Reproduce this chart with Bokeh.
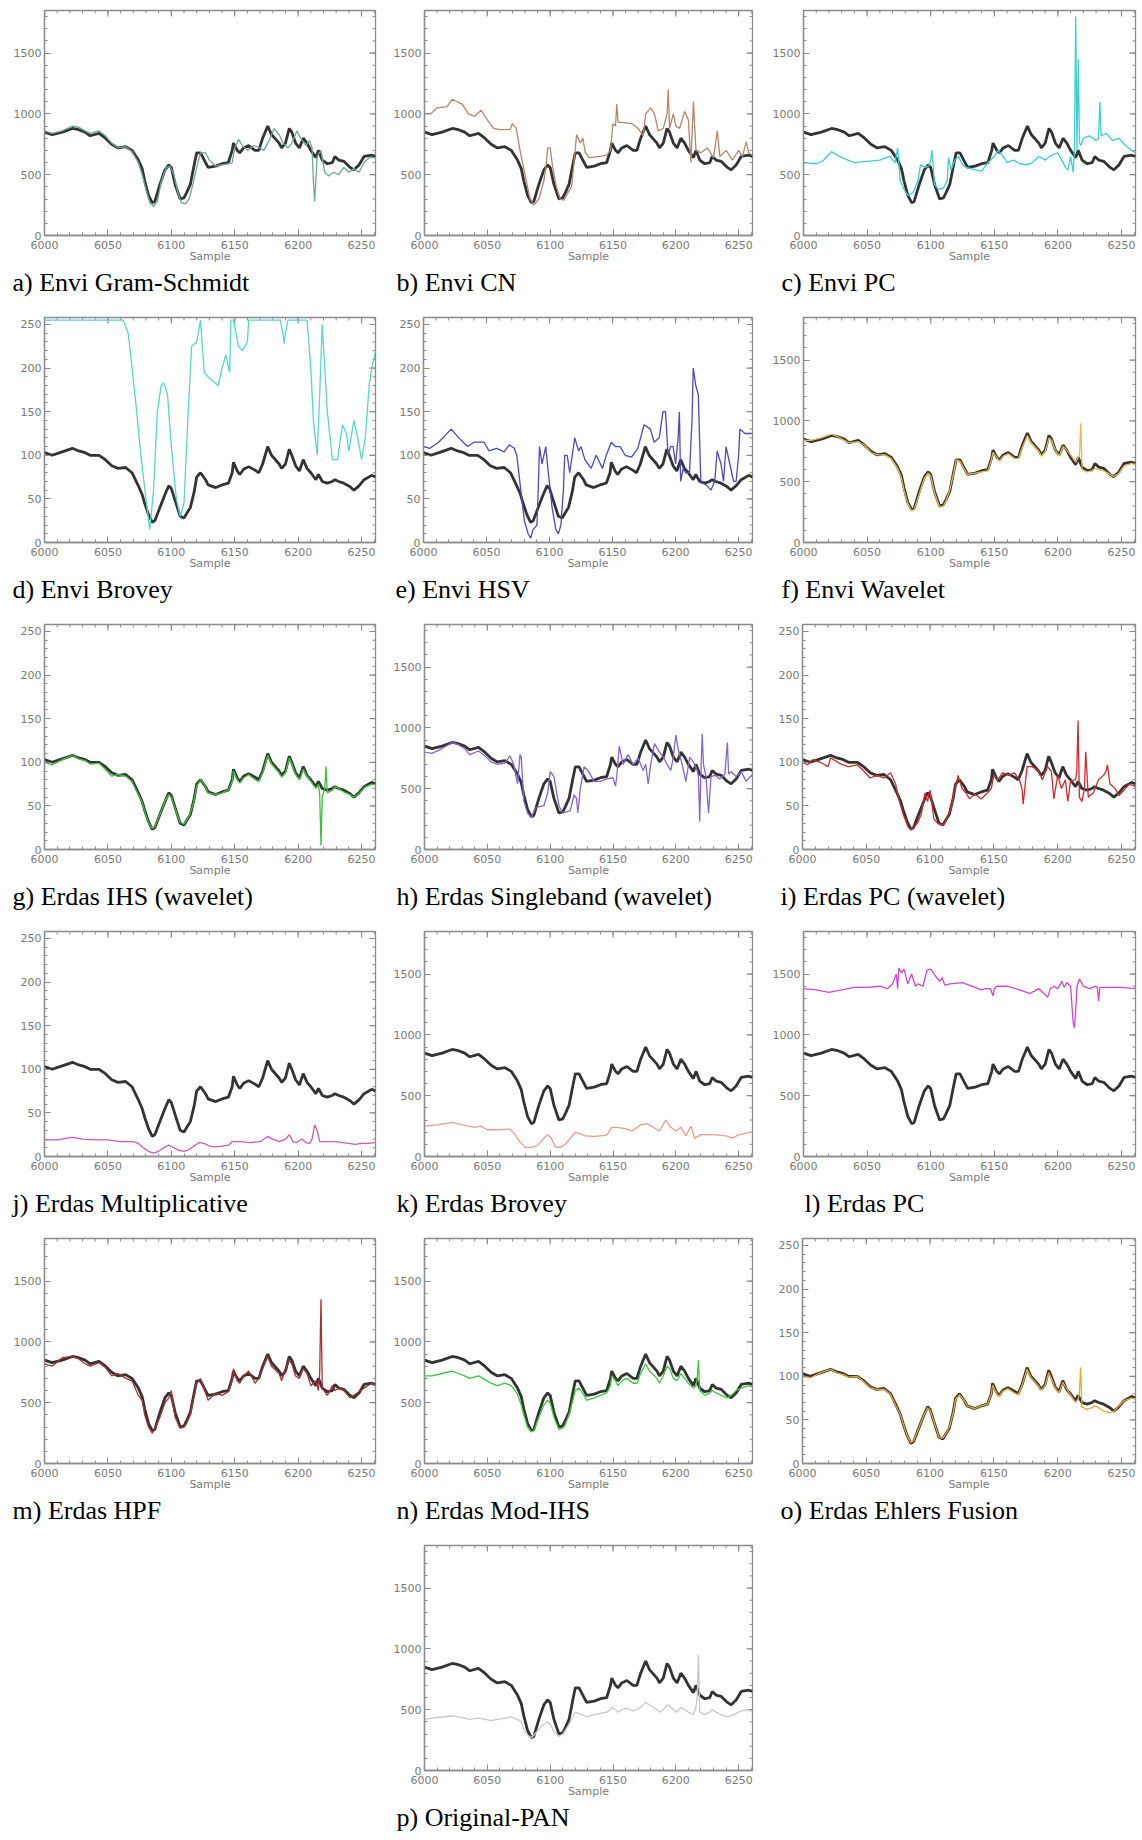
import math
from bokeh.plotting import figure
from bokeh.models import Range1d, FixedTicker, Spacer, Title
from bokeh.layouts import column, row
from bokeh.embed import file_html
from bokeh.resources import INLINE

# ---------------- data ----------------
# reference (original multispectral) profile, 11-bit and 8-bit versions
REF_X = [6000,6006,6014,6022,6027,6032,6036,6043,6048,6053,6058,6064,6069,6074,6077,6079,6082,6085,6087,6091,
         6095,6098,6100,6103,6107,6110,6112,6115,6118,6120,6123,6127,6129,6135,6140,6145,6148,6149,6152,6154,
         6157,6161,6166,6169,6172,6176,6179,6185,6187,6190,6193,6195,6198,6201,6204,6207,6210,6214,6216,6219,
         6223,6227,6229,6232,6236,6241,6244,6248,6252,6258,6261]
REF_11 = [850,830,850,880,870,850,820,840,800,750,720,730,700,620,550,450,330,270,280,420,
          540,580,560,420,300,310,350,420,580,680,680,600,560,570,590,600,700,760,700,680,
          720,740,700,700,800,900,830,760,720,760,880,850,760,720,800,760,700,640,700,620,
          590,600,650,620,610,560,540,580,650,660,650]
REF_8 = [103,100,104,108,105,103,100,100,95,88,85,86,80,65,55,45,32,23,25,40,
         55,65,62,48,30,28,33,40,58,75,80,72,66,63,66,68,80,92,82,78,
         84,87,83,80,90,110,100,90,85,90,107,100,88,82,95,85,80,72,78,70,
         68,70,72,70,68,64,60,65,72,77,75]

# a) Envi Gram-Schmidt
A_X = [6000,6006,6014,6022,6027,6032,6036,6043,6048,6053,6058,6064,6069,6074,6077,6080,6083,6086,6089,6092,
       6096,6099,6102,6105,6108,6111,6114,6117,6120,6123,6127,6130,6135,6140,6145,6148,6150,6153,6156,6160,
       6165,6170,6173,6177,6181,6185,6188,6192,6195,6199,6202,6206,6209,6211,6212,6213,6215,6218,6221,6224,
       6228,6232,6236,6240,6244,6248,6252,6256,6261]
A_Y = [860,840,860,900,890,860,840,860,820,760,720,730,690,600,500,380,270,240,280,440,
       560,570,500,360,270,260,300,420,560,680,680,620,570,580,590,600,720,790,740,700,
       740,720,700,780,880,830,760,720,760,860,800,740,780,720,450,280,650,700,520,490,
       520,500,560,520,550,520,600,640,640]
# b) Envi CN
B_X = [6000,6005,6010,6018,6022,6030,6035,6040,6045,6050,6055,6060,6068,6070,6073,6076,6080,6084,6087,6091,
       6095,6097,6098,6100,6102,6105,6108,6111,6114,6117,6119,6121,6124,6126,6128,6131,6140,6145,6148,6150,
       6152,6153,6154,6157,6165,6170,6174,6176,6180,6183,6186,6190,6193,6194,6195,6198,6200,6203,6207,6210,
       6212,6214,6216,6220,6225,6230,6233,6235,6240,6245,6250,6253,6256,6258,6261]
B_Y = [1000,1000,1050,1060,1120,1080,1000,980,1030,950,880,870,870,920,880,700,500,300,250,300,
       450,600,720,720,560,400,300,290,350,400,600,830,760,800,680,640,650,660,700,920,
       900,1080,930,930,920,880,820,1000,1050,1000,860,880,1000,1200,880,1000,900,880,1020,950,
       600,1100,700,680,720,640,860,650,700,620,700,650,770,680,660]
# c) Envi PC
C_X = [6000,6010,6015,6022,6030,6040,6050,6060,6068,6072,6074,6076,6079,6082,6086,6090,6092,6096,6099,6100,
       6101,6103,6106,6110,6113,6114,6116,6119,6122,6125,6128,6135,6140,6145,6150,6153,6157,6160,6165,6170,
       6175,6180,6185,6190,6195,6200,6203,6206,6208,6210,6212,6213,6214,6215,6216,6217,6218,6220,6225,6230,
       6232,6233,6234,6238,6243,6248,6253,6258,6261]
C_Y = [600,590,610,690,640,600,610,620,650,600,720,450,380,330,350,450,580,560,580,620,
       700,420,380,390,450,640,540,620,650,580,560,540,530,600,650,700,650,600,620,590,
       580,600,650,620,660,680,620,560,540,650,520,700,1800,700,1450,760,740,800,820,780,
       800,1100,820,840,780,800,740,700,680]
# d) Envi Brovey (8-bit)
D_X = [6000,6062,6066,6072,6076,6080,6083,6086,6089,6092,6094,6097,6100,6104,6107,6110,6113,6116,6120,6123,
       6126,6129,6133,6137,6140,6143,6146,6147,6149,6153,6156,6160,6161,6186,6188,6189,6190,6192,6207,6210,
       6212,6215,6217,6219,6221,6223,6227,6231,6235,6238,6240,6244,6247,6250,6253,6256,6258,6261]
D_Y = [255,255,240,160,100,50,15,60,150,180,183,170,110,50,30,45,140,225,230,255,
       195,190,185,180,200,215,195,255,255,225,220,230,255,255,240,228,240,255,255,200,
       140,100,170,250,200,150,95,95,135,125,105,140,120,95,120,180,200,220]
# e) Envi HSV (8-bit)
E_X = [6000,6005,6012,6022,6028,6035,6040,6048,6052,6058,6064,6068,6072,6074,6076,6078,6080,6083,6085,6087,
       6090,6091,6092,6094,6097,6099,6102,6105,6107,6109,6111,6112,6114,6116,6120,6123,6125,6128,6133,6137,
       6142,6145,6149,6152,6156,6160,6165,6170,6175,6180,6183,6187,6189,6190,6192,6194,6196,6198,6200,6202,
       6203,6204,6206,6208,6211,6213,6214,6216,6218,6219,6220,6225,6228,6231,6233,6236,6238,6240,6243,6246,
       6248,6250,6251,6255,6261]
E_Y = [110,108,115,130,120,110,115,115,105,108,104,112,108,100,75,50,25,10,5,15,
       20,60,110,90,110,80,40,15,10,20,60,100,100,80,120,105,110,95,85,100,
       85,100,115,110,110,100,98,108,135,130,115,120,140,150,150,100,110,110,90,120,
       150,70,85,80,80,140,200,180,170,120,70,65,60,70,105,90,70,110,90,70,
       70,100,130,125,125]
# f) Envi Wavelet
F_X = [6000,6006,6014,6022,6027,6032,6036,6043,6048,6053,6058,6064,6069,6074,6077,6079,6082,6085,6087,6091,
       6095,6098,6100,6103,6107,6110,6112,6115,6118,6120,6123,6127,6129,6135,6140,6145,6148,6149,6152,6154,
       6157,6161,6166,6169,6172,6176,6179,6185,6187,6190,6193,6195,6198,6201,6204,6207,6210,6214,6216,6217,
       6218,6219,6223,6227,6229,6232,6236,6241,6244,6248,6252,6258,6261]
F_Y = [840,840,860,890,870,840,820,830,800,740,720,720,690,610,530,430,320,260,270,400,
       530,570,550,410,290,300,340,430,570,680,670,590,560,570,580,590,690,740,700,670,
       710,730,690,690,780,880,820,750,710,750,860,840,760,710,790,760,720,660,700,720,
       980,600,580,590,610,600,590,560,540,570,630,650,640]
# g) Erdas IHS (wavelet) (8-bit)
G_X = [6000,6006,6014,6022,6027,6032,6036,6043,6048,6053,6058,6064,6069,6074,6077,6079,6082,6085,6087,6091,
       6095,6098,6100,6103,6107,6110,6112,6115,6118,6120,6123,6127,6129,6135,6140,6145,6148,6149,6152,6154,
       6157,6161,6166,6169,6172,6176,6179,6185,6187,6190,6193,6195,6198,6201,6204,6207,6210,6214,6216,6217,
       6218,6219,6221,6222,6223,6227,6229,6232,6236,6241,6244,6248,6252,6258,6261]
G_Y = [100,97,103,108,104,102,98,99,92,84,86,84,78,63,54,44,31,24,26,40,
       56,63,60,47,31,29,33,42,56,73,80,72,65,63,65,68,78,90,80,76,
       82,86,80,78,88,108,98,88,83,88,105,98,86,80,92,84,78,70,75,62,
       5,60,70,95,65,68,72,70,66,63,60,64,71,75,74]
# h) Erdas Singleband (wavelet)
H_X = [6000,6006,6014,6022,6027,6032,6036,6043,6048,6053,6058,6064,6068,6071,6074,6076,6077,6079,6082,6085,
       6088,6091,6095,6098,6100,6103,6107,6110,6113,6116,6119,6121,6122,6124,6127,6130,6135,6140,6145,6150,
       6152,6153,6155,6158,6162,6166,6170,6174,6176,6178,6180,6183,6187,6190,6193,6196,6198,6200,6202,6205,
       6208,6211,6214,6217,6218,6219,6220,6221,6222,6224,6226,6228,6231,6235,6239,6241,6242,6244,6248,6252,
       6256,6261]
H_Y = [800,790,830,880,860,830,780,810,770,720,700,710,770,700,540,780,760,400,300,260,
       340,350,360,460,640,600,360,300,310,320,450,420,300,500,680,650,560,560,580,590,
       520,600,850,700,780,700,750,650,700,540,700,870,800,760,700,650,760,940,820,700,
       560,760,720,650,600,230,650,950,700,600,300,600,610,580,620,880,620,640,600,640,
       560,620]
# i) Erdas PC (wavelet) (8-bit)
I_X = [6000,6004,6008,6014,6020,6022,6030,6036,6043,6048,6053,6058,6064,6069,6073,6076,6079,6083,6086,6090,
       6093,6096,6098,6100,6103,6106,6110,6113,6116,6118,6122,6125,6128,6131,6135,6140,6145,6148,6150,6153,
       6157,6162,6166,6170,6172,6173,6176,6180,6185,6188,6192,6195,6196,6197,6200,6203,6206,6208,6210,6214,
       6215,6216,6217,6219,6221,6222,6224,6228,6232,6236,6238,6239,6241,6245,6248,6252,6256,6261]
I_Y = [100,97,103,100,95,105,98,95,97,90,82,85,82,88,75,55,40,25,23,30,
       40,65,55,68,35,30,28,35,45,60,85,70,65,58,64,58,65,70,85,80,
       88,85,88,80,70,52,95,95,90,80,95,90,75,58,85,70,80,55,78,80,
       90,148,60,55,70,112,60,65,80,85,90,97,75,70,62,68,75,72]
# j) Erdas Multiplicative (8-bit)
J_X = [6000,6010,6022,6030,6040,6050,6060,6070,6074,6078,6082,6086,6090,6094,6098,6102,6106,6110,6114,6118,
       6122,6126,6130,6135,6140,6145,6148,6155,6162,6170,6176,6180,6185,6190,6193,6196,6199,6203,6206,6209,
       6211,6213,6215,6217,6220,6225,6230,6235,6240,6245,6250,6255,6261]
J_Y = [19,19,22,20,19,19,17,17,15,10,6,4,6,10,13,10,7,6,8,12,
       16,15,12,11,12,13,17,17,16,17,23,20,17,20,25,17,16,20,16,15,
       20,36,30,17,17,17,17,16,15,14,15,15,16]
# k) Erdas Brovey
K_X = [6000,6010,6022,6030,6040,6045,6050,6060,6068,6072,6076,6080,6085,6090,6095,6098,6101,6104,6108,6112,
       6116,6120,6123,6128,6135,6140,6145,6149,6153,6160,6165,6172,6177,6182,6187,6192,6196,6200,6204,6208,
       6212,6215,6220,6230,6240,6245,6250,6261]
K_Y = [250,260,280,260,240,250,220,220,225,180,120,75,75,90,150,180,150,80,75,100,
       150,200,190,170,165,170,175,240,240,230,210,260,270,240,210,300,240,210,240,170,
       250,150,180,180,170,150,180,200]
# l) Erdas PC
L_X = [6000,6010,6020,6030,6040,6050,6060,6066,6070,6073,6074,6075,6077,6079,6082,6085,6088,6090,6094,6097,
       6100,6104,6107,6109,6111,6115,6125,6140,6143,6147,6149,6150,6152,6160,6170,6178,6185,6192,6194,6197,
       6200,6203,6205,6207,6210,6212,6213,6214,6215,6217,6220,6225,6230,6231,6232,6233,6240,6250,6261]
L_Y = [1380,1370,1350,1370,1390,1390,1400,1380,1420,1500,1380,1550,1510,1540,1420,1500,1400,1420,1400,1530,
       1540,1480,1440,1470,1410,1420,1430,1370,1380,1380,1320,1380,1400,1400,1370,1340,1380,1310,1380,1400,
       1380,1440,1390,1430,1400,1100,1060,1200,1400,1460,1400,1380,1400,1390,1280,1390,1390,1390,1380]
# m) Erdas HPF
M_X = F_X
M_Y = [820,800,870,880,860,820,800,830,790,720,740,700,680,560,520,400,300,250,290,380,
       500,540,600,380,290,300,330,400,560,660,700,580,520,580,560,590,680,780,680,660,
       720,760,660,700,780,880,800,740,680,780,850,820,720,700,780,740,640,680,600,750,
       1350,620,560,640,600,620,600,540,560,590,620,660,640]
# n) Erdas Mod-IHS
N_X = F_X
N_Y = [720,720,740,760,740,720,700,720,690,660,640,660,640,570,480,400,300,260,270,380,
       480,520,500,380,280,290,320,400,520,600,620,560,520,540,560,580,640,720,680,640,
       680,700,660,660,740,820,760,700,660,720,800,780,700,680,740,700,660,620,640,700,
       850,600,560,580,600,580,560,540,560,600,620,640,630]
# o) Erdas Ehlers Fusion (8-bit)
O_X = F_X
O_Y = [100,98,104,108,104,102,99,100,94,87,85,85,79,64,55,45,32,24,26,40,
       55,64,61,48,30,29,33,41,57,74,79,72,66,63,66,68,79,90,81,77,
       83,86,81,79,89,108,99,89,84,89,104,98,87,81,93,86,79,70,74,80,
       110,65,62,64,66,64,60,58,60,66,72,75,74]
# p) Original-PAN
P_X = F_X
P_Y = [420,430,440,450,440,430,420,430,420,410,420,430,440,420,400,340,290,270,290,340,
       380,400,380,320,280,300,330,380,440,480,470,450,440,460,470,480,500,520,500,480,
       500,510,490,500,520,560,540,500,480,500,540,530,500,480,520,500,480,460,520,600,
       950,480,460,480,500,480,460,440,450,470,490,500,480]

CAPTIONS = ["a) Envi Gram-Schmidt", "b) Envi CN", "c) Envi PC",
            "d) Envi Brovey", "e) Envi HSV", "f) Envi Wavelet",
            "g) Erdas IHS (wavelet)", "h) Erdas Singleband (wavelet)", "i) Erdas PC (wavelet)",
            "j) Erdas Multiplicative", "k) Erdas Brovey", "l) Erdas PC",
            "m) Erdas HPF", "n) Erdas Mod-IHS", "o) Erdas Ehlers Fusion",
            "p) Original-PAN"]
SERIES_X = [A_X, B_X, C_X, D_X, E_X, F_X, G_X, H_X, I_X, J_X, K_X, L_X, M_X, N_X, O_X, P_X]
SERIES_Y = [A_Y, B_Y, C_Y, D_Y, E_Y, F_Y, G_Y, H_Y, I_Y, J_Y, K_Y, L_Y, M_Y, N_Y, O_Y, P_Y]
EIGHT_BIT = [False, False, False, True, True, False, True, False, True, True, False, False,
             False, False, True, False]
COLORS = ["#6aa898", "#b8866a", "#3ccfcf", "#55d6d0", "#4a4ac4", "#e8b84a",
          "#3cc23c", "#8a62d2", "#d42a2a", "#d455bc", "#ec9c8c", "#d444d4",
          "#a83232", "#3cc83c", "#e8a832", "#c8c8c8"]

X_TICKS = [6000, 6050, 6100, 6150, 6200, 6250]
X_MINOR = list(range(6000, 6261, 10))
Y_TICKS_11 = [0, 500, 1000, 1500]
Y_MINOR_11 = list(range(0, 1801, 100))
Y_TICKS_8 = [0, 50, 100, 150, 200, 250]
Y_MINOR_8 = list(range(0, 251, 10))
X_END = 6261
Y_END_11 = 1850
Y_END_8 = 258

# ---------------- layout ----------------
COL_W = [390, 379, 371]
COL_BL = [44, 33, 33]
COL_BR = [15, 17, 5]
CAP_DX = [-32, -28, -22]
AX_COL = "#8c8c8c"
LAB_COL = "#7a7a7a"


def style_axis(ax):
    ax.axis_line_color = AX_COL
    ax.axis_line_width = 1.3
    ax.major_tick_line_color = AX_COL
    ax.minor_tick_line_color = AX_COL
    ax.major_tick_in = 6
    ax.major_tick_out = 0
    ax.minor_tick_in = 3
    ax.minor_tick_out = 0
    ax.major_label_text_font = "DejaVu Sans"
    ax.major_label_text_font_size = "11px"
    ax.major_label_text_color = LAB_COL


def make_panel(i, col, height, bottom):
    eight = EIGHT_BIT[i]
    ymax = Y_END_8 if eight else Y_END_11
    p = figure(width=COL_W[col], height=height, output_backend="svg", toolbar_location=None,
               x_range=Range1d(6000, X_END), y_range=Range1d(0, ymax),
               min_border_left=COL_BL[col], min_border_right=COL_BR[col],
               min_border_top=10, min_border_bottom=bottom)
    p.xgrid.visible = False
    p.ygrid.visible = False
    p.outline_line_color = AX_COL
    p.outline_line_width = 1.3
    p.background_fill_color = "white"
    p.border_fill_color = "white"

    yt = Y_TICKS_8 if eight else Y_TICKS_11
    ym = Y_MINOR_8 if eight else Y_MINOR_11
    p.xaxis.ticker = FixedTicker(ticks=X_TICKS, minor_ticks=X_MINOR)
    p.yaxis.ticker = FixedTicker(ticks=yt, minor_ticks=ym)
    style_axis(p.xaxis[0])
    style_axis(p.yaxis[0])
    p.xaxis.axis_label = "Sample"
    p.xaxis.axis_label_text_font = "DejaVu Sans"
    p.xaxis.axis_label_text_font_size = "11px"
    p.xaxis.axis_label_text_font_style = "normal"
    p.xaxis.axis_label_text_color = LAB_COL
    p.xaxis.axis_label_standoff = -2
    p.xaxis.major_label_standoff = 5
    p.yaxis.major_label_standoff = 3

    # inward ticks on the top and right edges of the box (half of each dash is clipped by the frame)
    p.scatter(X_TICKS, [ymax] * len(X_TICKS), marker="dash", angle=math.pi / 2, size=12,
              line_color=AX_COL, line_width=1.2)
    p.scatter(X_MINOR, [ymax] * len(X_MINOR), marker="dash", angle=math.pi / 2, size=6,
              line_color=AX_COL, line_width=1.0)
    p.scatter([X_END] * len(yt), yt, marker="dash", size=12, line_color=AX_COL, line_width=1.2)
    p.scatter([X_END] * len(ym), ym, marker="dash", size=6, line_color=AX_COL, line_width=1.0)

    ref_y = REF_8 if eight else REF_11
    p.line(REF_X, ref_y, line_color="#333333", line_width=2.8)
    xs, ys = SERIES_X[i], SERIES_Y[i]
    n = min(len(xs), len(ys))
    p.line(xs[:n], ys[:n], line_color=COLORS[i], line_width=1.3)

    dx = 1 if i == 11 else CAP_DX[col]
    p.add_layout(Title(text=CAPTIONS[i], align="left", offset=dx, standoff=0,
                       text_font="Liberation Serif", text_font_size="26px",
                       text_font_style="normal", text_color="black"), "below")
    return p


rows = []
for r in range(5):
    figs = [make_panel(r * 3 + c, c, 307, 72) for c in range(3)]
    rows.append(row(*figs))
rows.append(row(Spacer(width=COL_W[0], height=303), make_panel(15, 1, 303, 68)))
layout = column(*rows)

open("out.html", "w").write(file_html(layout, INLINE))
